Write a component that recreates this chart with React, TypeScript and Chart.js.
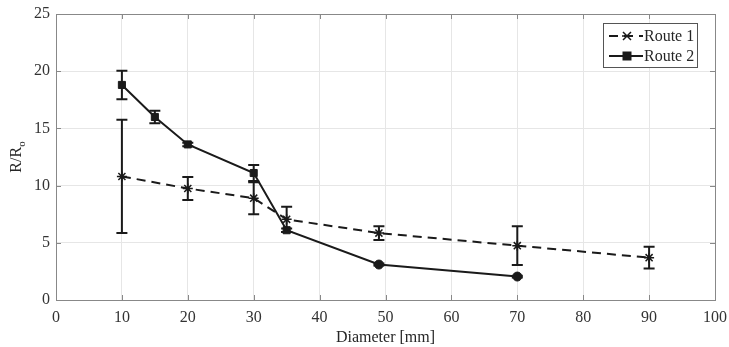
import React, { useEffect, useRef } from "react";
import { Chart, registerables } from "chart.js";

Chart.register(...registerables);

const route1X = [10, 20, 30, 35, 49, 70, 90];
const route1Y = [10.8, 9.75, 8.9, 7.05, 5.85, 4.75, 3.7];
const route1Err = [4.95, 1.0, 1.4, 1.1, 0.6, 1.7, 0.95];

const route2X = [10, 15, 20, 30, 35, 49, 70];
const route2Y = [18.8, 16.0, 13.6, 11.1, 6.1, 3.1, 2.05];
const route2Err = [1.25, 0.55, 0.15, 0.7, 0.15, 0.08, 0.08];

const xTicks = [0, 10, 20, 30, 40, 50, 60, 70, 80, 90, 100];
const yTicks = [0, 5, 10, 15, 20, 25];

const FONT = "'Liberation Serif', 'Times New Roman', serif";
const INK = "#1a1a1a";
const AXIS = "#888888";

const errorBarPlugin = {
  id: "errorBars",
  afterDatasetsDraw(chart: any) {
    const ctx = chart.ctx;
    const xs = chart.scales.x;
    const ys = chart.scales.y;
    ctx.save();
    ctx.strokeStyle = INK;
    ctx.lineWidth = 2;
    chart.data.datasets.forEach((ds: any) => {
      const errs: number[] = ds.errors || [];
      ds.data.forEach((p: any, i: number) => {
        const e = errs[i];
        if (!e) return;
        const px = xs.getPixelForValue(p.x);
        const top = ys.getPixelForValue(p.y + e);
        const bot = ys.getPixelForValue(p.y - e);
        ctx.beginPath();
        ctx.moveTo(px, top);
        ctx.lineTo(px, bot);
        ctx.moveTo(px - 5.5, top);
        ctx.lineTo(px + 5.5, top);
        ctx.moveTo(px - 5.5, bot);
        ctx.lineTo(px + 5.5, bot);
        ctx.stroke();
      });
    });
    ctx.restore();
  },
};

const framePlugin = {
  id: "frame",
  beforeDatasetsDraw(chart: any) {
    const { ctx, chartArea: a } = chart;
    const xs = chart.scales.x;
    const ys = chart.scales.y;
    ctx.save();
    ctx.strokeStyle = AXIS;
    ctx.lineWidth = 1;
    ctx.beginPath();
    xTicks.forEach((t) => {
      const px = Math.round(xs.getPixelForValue(t)) + 0.5;
      ctx.moveTo(px, a.bottom);
      ctx.lineTo(px, a.bottom - 5);
      ctx.moveTo(px, a.top);
      ctx.lineTo(px, a.top + 5);
    });
    yTicks.forEach((t) => {
      const py = Math.round(ys.getPixelForValue(t)) + 0.5;
      ctx.moveTo(a.left, py);
      ctx.lineTo(a.left + 5, py);
      ctx.moveTo(a.right, py);
      ctx.lineTo(a.right - 5, py);
    });
    ctx.stroke();
    ctx.strokeRect(Math.round(a.left) + 0.5, Math.round(a.top) + 0.5, Math.round(a.right - a.left), Math.round(a.bottom - a.top));
    ctx.restore();
  },
  afterDraw(chart: any) {
    const { ctx, chartArea: a } = chart;
    ctx.save();
    const cy = (a.top + a.bottom) / 2;
    ctx.translate(17, cy);
    ctx.rotate(-Math.PI / 2);
    ctx.fillStyle = "#262626";
    ctx.textBaseline = "middle";
    ctx.font = `16px ${FONT}`;
    const main = "R/R";
    const wMain = ctx.measureText(main).width;
    ctx.font = `11px ${FONT}`;
    const wSub = ctx.measureText("o").width;
    const total = wMain + wSub;
    ctx.font = `16px ${FONT}`;
    ctx.textAlign = "left";
    ctx.fillText(main, -total / 2, 0);
    ctx.font = `11px ${FONT}`;
    ctx.fillText("o", -total / 2 + wMain, 5);
    ctx.restore();

    ctx.save();
    const bx = 603.5, by = 23.5, bw = 94, bh = 44;
    ctx.fillStyle = "#ffffff";
    ctx.fillRect(bx, by, bw, bh);
    ctx.strokeStyle = "#555555";
    ctx.lineWidth = 1;
    ctx.strokeRect(bx, by, bw, bh);
    const rows = [
      { y: 36, dash: [9, 6], label: "Route 1", marker: "star" },
      { y: 56, dash: [], label: "Route 2", marker: "rect" },
    ];
    rows.forEach((r) => {
      ctx.strokeStyle = INK;
      ctx.lineWidth = 2;
      ctx.setLineDash(r.dash);
      ctx.beginPath();
      ctx.moveTo(609, r.y);
      ctx.lineTo(643, r.y);
      ctx.stroke();
      ctx.setLineDash([]);
      ctx.fillStyle = INK;
      if (r.marker === "rect") {
        ctx.fillRect(627 - 4.5, r.y - 4.5, 9, 9);
      } else {
        ctx.lineWidth = 1.5;
        ctx.beginPath();
        const s = 4;
        ctx.moveTo(627 - s, r.y - s);
        ctx.lineTo(627 + s, r.y + s);
        ctx.moveTo(627 - s, r.y + s);
        ctx.lineTo(627 + s, r.y - s);
        ctx.moveTo(627 - 5, r.y);
        ctx.lineTo(627 + 5, r.y);
        ctx.stroke();
      }
      ctx.fillStyle = "#262626";
      ctx.font = `16px ${FONT}`;
      ctx.textAlign = "left";
      ctx.textBaseline = "middle";
      ctx.fillText(r.label, 644, r.y + 1);
    });
    ctx.restore();
  },
};

export default function App() {
  const ref = useRef<HTMLCanvasElement>(null);
  useEffect(() => {
    document.body.style.margin = "0";
    const cv = ref.current!;
    const chart = new Chart(cv, {
      type: "line",
      data: {
        datasets: [
          {
            label: "Route 1",
            data: route1X.map((x, i) => ({ x, y: route1Y[i] })),
            errors: route1Err,
            borderColor: INK,
            backgroundColor: INK,
            borderWidth: 2,
            borderDash: [9, 6],
            pointStyle: "star",
            pointRadius: 5,
            pointBorderWidth: 1.5,
            pointBorderColor: INK,
            tension: 0,
          } as any,
          {
            label: "Route 2",
            data: route2X.map((x, i) => ({ x, y: route2Y[i] })),
            errors: route2Err,
            borderColor: INK,
            backgroundColor: INK,
            borderWidth: 2,
            pointStyle: ["rect", "rect", "rect", "rect", "rect", "circle", "circle"],
            pointRadius: [5, 5, 5, 5, 5, 4.5, 4.5],
            pointBorderWidth: 1,
            pointBorderColor: INK,
            pointBackgroundColor: INK,
            tension: 0,
          } as any,
        ],
      },
      options: {
        animation: false,
        responsive: false,
        layout: { padding: { left: 0, right: 14, top: 14, bottom: 0 } },
        plugins: { legend: { display: false }, tooltip: { enabled: false } },
        scales: {
          x: {
            type: "linear",
            min: 0,
            max: 100,
            afterBuildTicks: (s: any) => {
              s.ticks = xTicks.map((v) => ({ value: v }));
            },
            afterFit: (s: any) => {
              s.height = 47;
              s.paddingLeft = 0;
              s.paddingRight = 0;
            },
            ticks: { font: { family: FONT, size: 16 }, color: "#333333", padding: 8, maxRotation: 0 },
            grid: { color: "#e6e6e6", drawTicks: false },
            border: { display: false },
            title: {
              display: true,
              text: "Diameter [mm]",
              font: { family: FONT, size: 16 },
              color: "#262626",
              padding: { top: 0, bottom: 0 },
            },
          },
          y: {
            type: "linear",
            min: 0,
            max: 25,
            afterBuildTicks: (s: any) => {
              s.ticks = yTicks.map((v) => ({ value: v }));
            },
            afterFit: (s: any) => {
              s.width = 56;
              s.paddingTop = 0;
              s.paddingBottom = 0;
            },
            ticks: { font: { family: FONT, size: 16 }, color: "#333333", padding: 6 },
            grid: { color: "#e6e6e6", drawTicks: false },
            border: { display: false },
          },
        },
      },
      plugins: [framePlugin, errorBarPlugin],
    } as any);
    return () => chart.destroy();
  }, []);
  return (
    <div style={{ position: "absolute", left: 0, top: 0, width: 729, height: 347, background: "#fff" }}>
      <canvas ref={ref} width={729} height={347} />
    </div>
  );
}
